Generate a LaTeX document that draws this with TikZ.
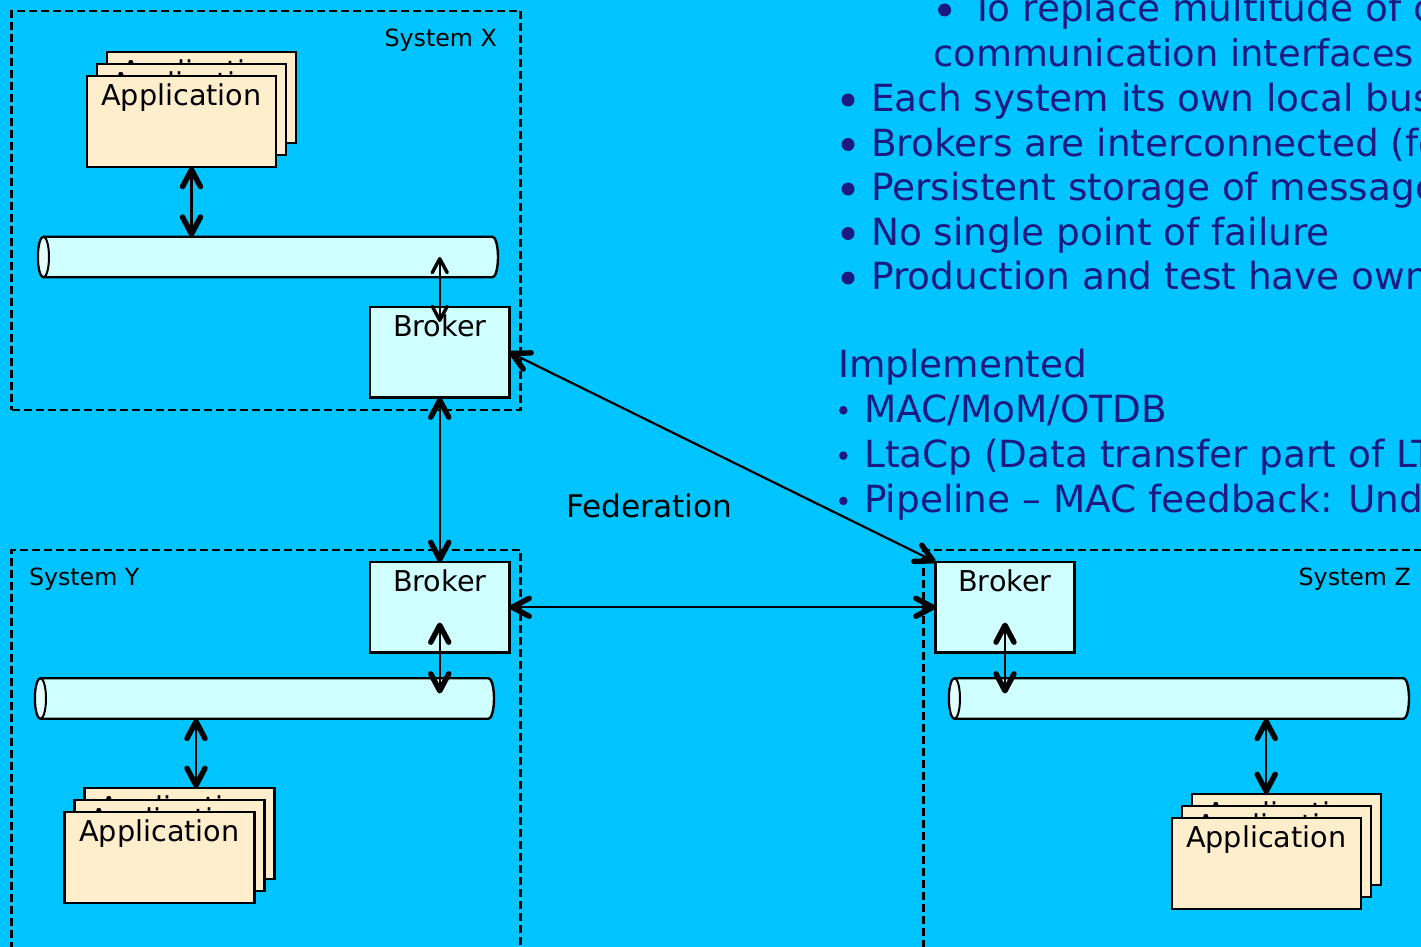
\documentclass[tikz,border=0pt]{standalone}
\usepackage{fontspec}
\setmainfont{DejaVu Sans}
\usetikzlibrary{arrows.meta,calc}
\definecolor{slidebg}{RGB}{0,196,255}
\definecolor{navytext}{RGB}{26,26,128}
\definecolor{cardfill}{RGB}{255,238,204}
\definecolor{brokerfill}{RGB}{208,255,255}
\definecolor{busendfill}{RGB}{228,255,255}
\tikzset{
  bigbarb/.tip={Straight Barb[length=17pt,width=18pt,line width=5.4pt,round]},
  smallbarb/.tip={Straight Barb[length=14pt,width=15pt,line width=3.4pt,round]},
  link/.style={line width=2.2pt, bigbarb-bigbarb},
  linkthin/.style={line width=2pt, smallbarb-smallbarb},
  sysbox/.style={rectangle, draw=black, line width=2.2pt, dash pattern=on 8pt off 4pt,
    inner sep=0pt, outer sep=0pt, anchor=north west},
  syslabel/.style={inner sep=0pt, text=black, font=\fontsize{23.7}{26}\selectfont},
  boxlabel/.style={anchor=north, inner sep=0pt, text=black, font=\fontsize{28.7}{30}\selectfont},
  card/.style={rectangle, draw=black, line width=2.4pt, fill=cardfill, inner sep=0pt, outer sep=0pt,
    anchor=north west, minimum width=189pt, minimum height=91pt,
    label={[boxlabel, yshift=-7.5pt]north:Application}},
  brokerbox/.style={rectangle, draw=black, line width=2.4pt, fill=brokerfill, inner sep=0pt, outer sep=0pt,
    anchor=north west, minimum width=139.5pt, minimum height=90.5pt,
    label={[boxlabel, yshift=-7pt]north:Broker}},
  busnode/.style={rectangle, draw=none, inner sep=0pt, outer sep=0pt, minimum height=40.5pt},
  busline/.style={draw=black, line width=2.4pt, fill=brokerfill},
  busend/.style={draw=black, line width=2pt, fill=busendfill},
  bodytext/.style={anchor=base west, inner sep=0pt, text=navytext, font=\fontsize{37.4}{44}\selectfont},
}
\begin{document}
\begin{tikzpicture}[x=1pt,y=-1pt]
\useasboundingbox (0,0) rectangle (1421,947);
\clip (0,0) rectangle (1421,947);
\fill[slidebg] (0,0) rectangle (1421,947);

% system frames
\node[sysbox, minimum width=509pt, minimum height=399pt] (sysX) at (11.5,11) {};
\node[sysbox, minimum width=509pt, minimum height=450pt] (sysY) at (11.5,550) {};
\node[sysbox, minimum width=600pt, minimum height=450pt] (sysZ) at (923.5,550) {};
\node[syslabel, anchor=base east] (sysXlabel) at (497,46.5) {System X};
\node[syslabel, anchor=base west] (sysYlabel) at (28.8,585.5) {System Y};
\node[syslabel, anchor=base east] (sysZlabel) at (1411,585.5) {System Z};

% local message buses
\node[busnode, minimum width=460pt] (busX) at (268,257) {};
\node[busnode, minimum width=459pt] (busY) at (264.5,698.5) {};
\node[busnode, minimum width=460pt] (busZ) at (1179,698.5) {};
\foreach \b in {busX,busY,busZ}{
  \filldraw[busline] ([xshift=5.5pt]\b.north west) -- ([xshift=-5.5pt]\b.north east)
    arc[start angle=90,end angle=-90,x radius=5.5pt,y radius=20.25pt]
    -- ([xshift=5.5pt]\b.south west)
    arc[start angle=270,end angle=90,x radius=5.5pt,y radius=20.25pt] -- cycle;
  \filldraw[busend] ([xshift=5.5pt]\b.west) ellipse[x radius=5.5pt,y radius=20.25pt];
}

% brokers
\node[brokerbox] (brokerX) at (370,307) {};
\node[brokerbox] (brokerY) at (370,562) {};
\node[brokerbox, minimum width=139pt] (brokerZ) at (935.5,562) {};

% application stacks
\node[card] (appX3) at (107,52) {};
\node[card] (appX2) at (97,64) {};
\node[card] (appX1) at (87,76) {};
\node[card, minimum width=190pt] (appY3) at (84.5,788) {};
\node[card, minimum width=190pt] (appY2) at (74.5,800) {};
\node[card, minimum width=190pt] (appY1) at (64.5,812) {};
\node[card] (appZ3) at (1191.7,794) {};
\node[card] (appZ2) at (1181.7,806) {};
\node[card] (appZ1) at (1171.7,818) {};

% connections inside the systems
\draw[link] (appX2.center |- appX1.south) -- (appX2.center |- busX.north);
\draw[linkthin] (brokerX.center |- busX.center) -- ($(brokerX.north)+(0,15)$);
\draw[link] ($(brokerY.south)+(0,-30)$) -- ($(brokerY.center |- busY.center)+(0,-5)$);
\draw[link] ($(busY.south -| appY3.north)+(16.5,0)$) -- ($(appY3.north)+(16.5,0)$);
\draw[link] ($(brokerZ.south)+(0,-30)$) -- ($(brokerZ.center |- busZ.center)+(0,-5)$);
\draw[link] (appZ1.center |- busZ.south) -- (appZ1.center |- appZ3.north);

% federation links between brokers
\draw[link] (brokerX.south) -- (brokerY.north);
\draw[link] (brokerX.east) -- (brokerZ.north west);
\draw[link] (brokerY.east) -- (brokerZ.west);
\node[inner sep=0pt, anchor=base west, text=black, font=\fontsize{31.2}{33}\selectfont] (fed) at (566,517.3) {Federation};

% notes
\fill[navytext] (944.6,10) circle[radius=6.5pt];
\node[bodytext] (n0) at (971,21.7) {To replace multitude of custom};
\node[bodytext, font=\fontsize{36.9}{44}\selectfont] (n1) at (933,66.8) {communication interfaces};
\foreach \y/\t [count=\i] in {111.7/Each system its own local bus,
    156.2/Brokers are interconnected (federation),
    200.7/Persistent storage of messages,
    245.2/No single point of failure,
    289.7/Production and test have own brokers}{
  \fill[navytext] (848,\y-11.7) circle[radius=6.5pt];
  \node[bodytext] (b\i) at (871,\y) {\t};
}
\node[bodytext] (impl) at (838,377.3) {Implemented};
\foreach \y/\t [count=\i] in {422/{MAC/MoM/OTDB},
    467.3/{LtaCp (Data transfer part of LTA)},
    512.6/{Pipeline – MAC feedback: Under development}}{
  \fill[navytext] (843.3,\y-11.7) circle[radius=4.3pt];
  \node[bodytext] (c\i) at (864,\y) {\t};
}
\end{tikzpicture}
\end{document}
